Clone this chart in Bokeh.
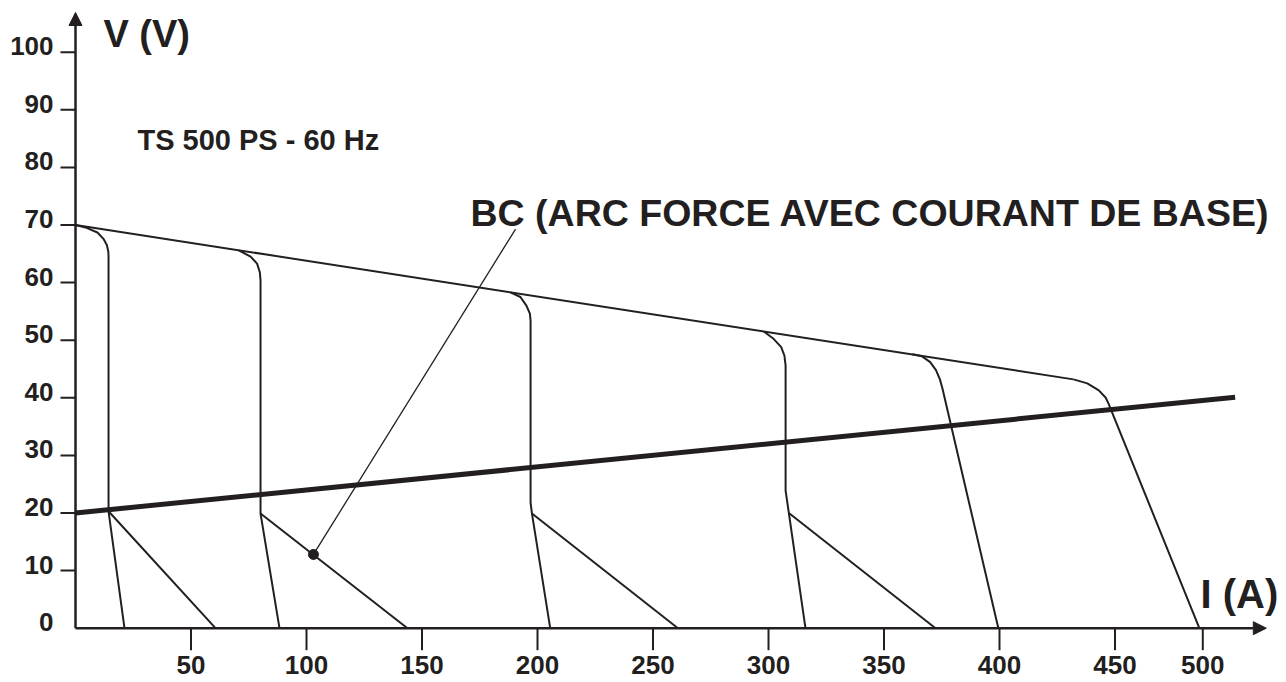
import numpy as np
from bokeh.plotting import figure
from bokeh.models import Arrow, NormalHead, Label
from bokeh.core.properties import value
from bokeh.embed import file_html
from bokeh.resources import INLINE

# ---------------- data ----------------
y_tick_marks = [10, 20, 30, 40, 50, 60, 70, 80, 90, 100]
y_label_values = [0, 10, 20, 30, 40, 50, 60, 70, 80, 90, 100]
y_label_texts = ["0", "10", "20", "30", "40", "50", "60", "70", "80", "90", "100"]
x_tick_marks = [50, 100, 150, 200, 250, 300, 350, 400, 450, 488]
x_label_texts = ["50", "100", "150", "200", "250", "300", "350", "400", "450", "500"]

# envelope (max open-circuit characteristic)
env_I = [0, 432]
env_V = [70, 43.2]

# conventional load line
load_I = [0, 502]
load_V = [20, 40.1]

# static characteristics (current settings)
c1_I = [0, 4.8, 9.5, 12.1, 13.6, 14.2, 14.3, 14.3, 21.2]
c1_V = [70, 69.5, 68.7, 67.6, 66.5, 65.4, 64.5, 20.3, 0]
c2_I = [70.7, 75.8, 78.6, 79.8, 80.1, 80.1, 88.3]
c2_V = [65.6, 64.5, 63.3, 61.8, 60.4, 19.9, 0]
c3_I = [188.3, 192.6, 195.2, 196.7, 197.0, 197.0, 197.6, 205.5]
c3_V = [58.3, 57.5, 56.0, 54.6, 53.4, 21.8, 19.9, 0]
c4_I = [298.0, 302.3, 305.5, 306.9, 307.4, 307.4, 316.0]
c4_V = [51.5, 50.2, 48.8, 47.3, 45.6, 23.9, 0]
c5_I = [362.3, 366.5, 370.0, 372.5, 374.2, 375.3, 399.5]
c5_V = [47.55, 47.2, 46.2, 44.8, 43.2, 41.6, 0]
c6_I = [432.0, 438.0, 443.0, 446.0, 447.2, 486.5]
c6_V = [43.2, 42.5, 41.3, 40.0, 39.0, 0]

# BC (arc force with base current) branches
bc1_I = [14.3, 60.6]
bc1_V = [20.3, 0]
bc2_I = [80.1, 143.7]
bc2_V = [19.9, 0]
bc3_I = [197.6, 260.8]
bc3_V = [19.9, 0]
bc4_I = [308.8, 372.3]
bc4_V = [20.0, 0]

# callout
dot_I = [103.0]
dot_V = [12.8]
callout_I = [103.0, 190.5]
callout_V = [12.8, 69.3]

# ---------------- figure ----------------
INK = "#231f20"
FONT_NAME = "Liberation Sans"
FONT = value(FONT_NAME)

p = figure(width=1286, height=682, x_range=(-32.47, 524.24), y_range=(-9.43, 108.98),
           x_axis_type=None, y_axis_type=None, toolbar_location=None,
           output_backend="svg", min_border=0)
p.min_border_left = 0
p.min_border_right = 0
p.min_border_top = 0
p.min_border_bottom = 0
p.xgrid.visible = False
p.ygrid.visible = False
p.outline_line_color = None
p.background_fill_color = "white"
p.border_fill_color = "white"

# tick marks
p.ray(x=[0] * len(y_tick_marks), y=y_tick_marks, length=15, angle=np.pi,
      length_units="screen", line_color=INK, line_width=2)
p.ray(x=x_tick_marks, y=[0] * len(x_tick_marks), length=22, angle=-np.pi / 2,
      length_units="screen", line_color=INK, line_width=2)

# tick labels
p.text(x=[0] * len(y_label_values), y=y_label_values, text=y_label_texts,
       x_offset=-22, y_offset=-6, text_align="right", text_baseline="middle",
       text_font=FONT, text_font_style="bold", text_font_size="26px", text_color=INK)
p.text(x=x_tick_marks, y=[0] * len(x_tick_marks), text=x_label_texts,
       x_offset=0, y_offset=37, text_align="center", text_baseline="middle",
       text_font=FONT, text_font_style="bold", text_font_size="26px", text_color=INK)

# curves
p.line(env_I, env_V, line_color=INK, line_width=2)
p.line(load_I, load_V, line_color=INK, line_width=5)
for xs, ys in [(c1_I, c1_V), (c2_I, c2_V), (c3_I, c3_V), (c4_I, c4_V), (c5_I, c5_V), (c6_I, c6_V)]:
    p.line(xs, ys, line_color=INK, line_width=2, line_join="round")
for xs, ys in [(bc1_I, bc1_V), (bc2_I, bc2_V), (bc3_I, bc3_V), (bc4_I, bc4_V)]:
    p.line(xs, ys, line_color=INK, line_width=2)

p.line(callout_I, callout_V, line_color=INK, line_width=1.3)
p.scatter(dot_I, dot_V, size=10, color=INK)

# axes with arrows
p.add_layout(Arrow(end=NormalHead(size=13, fill_color=INK, line_color=INK),
                   x_start=0, y_start=0, x_end=0, y_end=106.9,
                   line_color=INK, line_width=2.5))
p.add_layout(Arrow(end=NormalHead(size=13, fill_color=INK, line_color=INK),
                   x_start=0, y_start=0, x_end=515.5, y_end=0,
                   line_color=INK, line_width=2.5))

# texts
def lab(x, y, t, size):
    p.add_layout(Label(x=x, y=y, text=t, text_font=FONT_NAME, text_font_style="bold",
                       text_font_size=size, text_color=INK,
                       text_align="left", text_baseline="middle"))

lab(12.1, 103.1, "V (V)", "38px")
lab(26.8, 84.8, "TS 500 PS - 60 Hz", "29px")
lab(171.0, 72.1, "BC (ARC FORCE AVEC COURANT DE BASE)", "37.5px")
lab(487.0, 5.9, "I (A)", "40px")

open("out.html", "w").write(file_html(p, INLINE))
